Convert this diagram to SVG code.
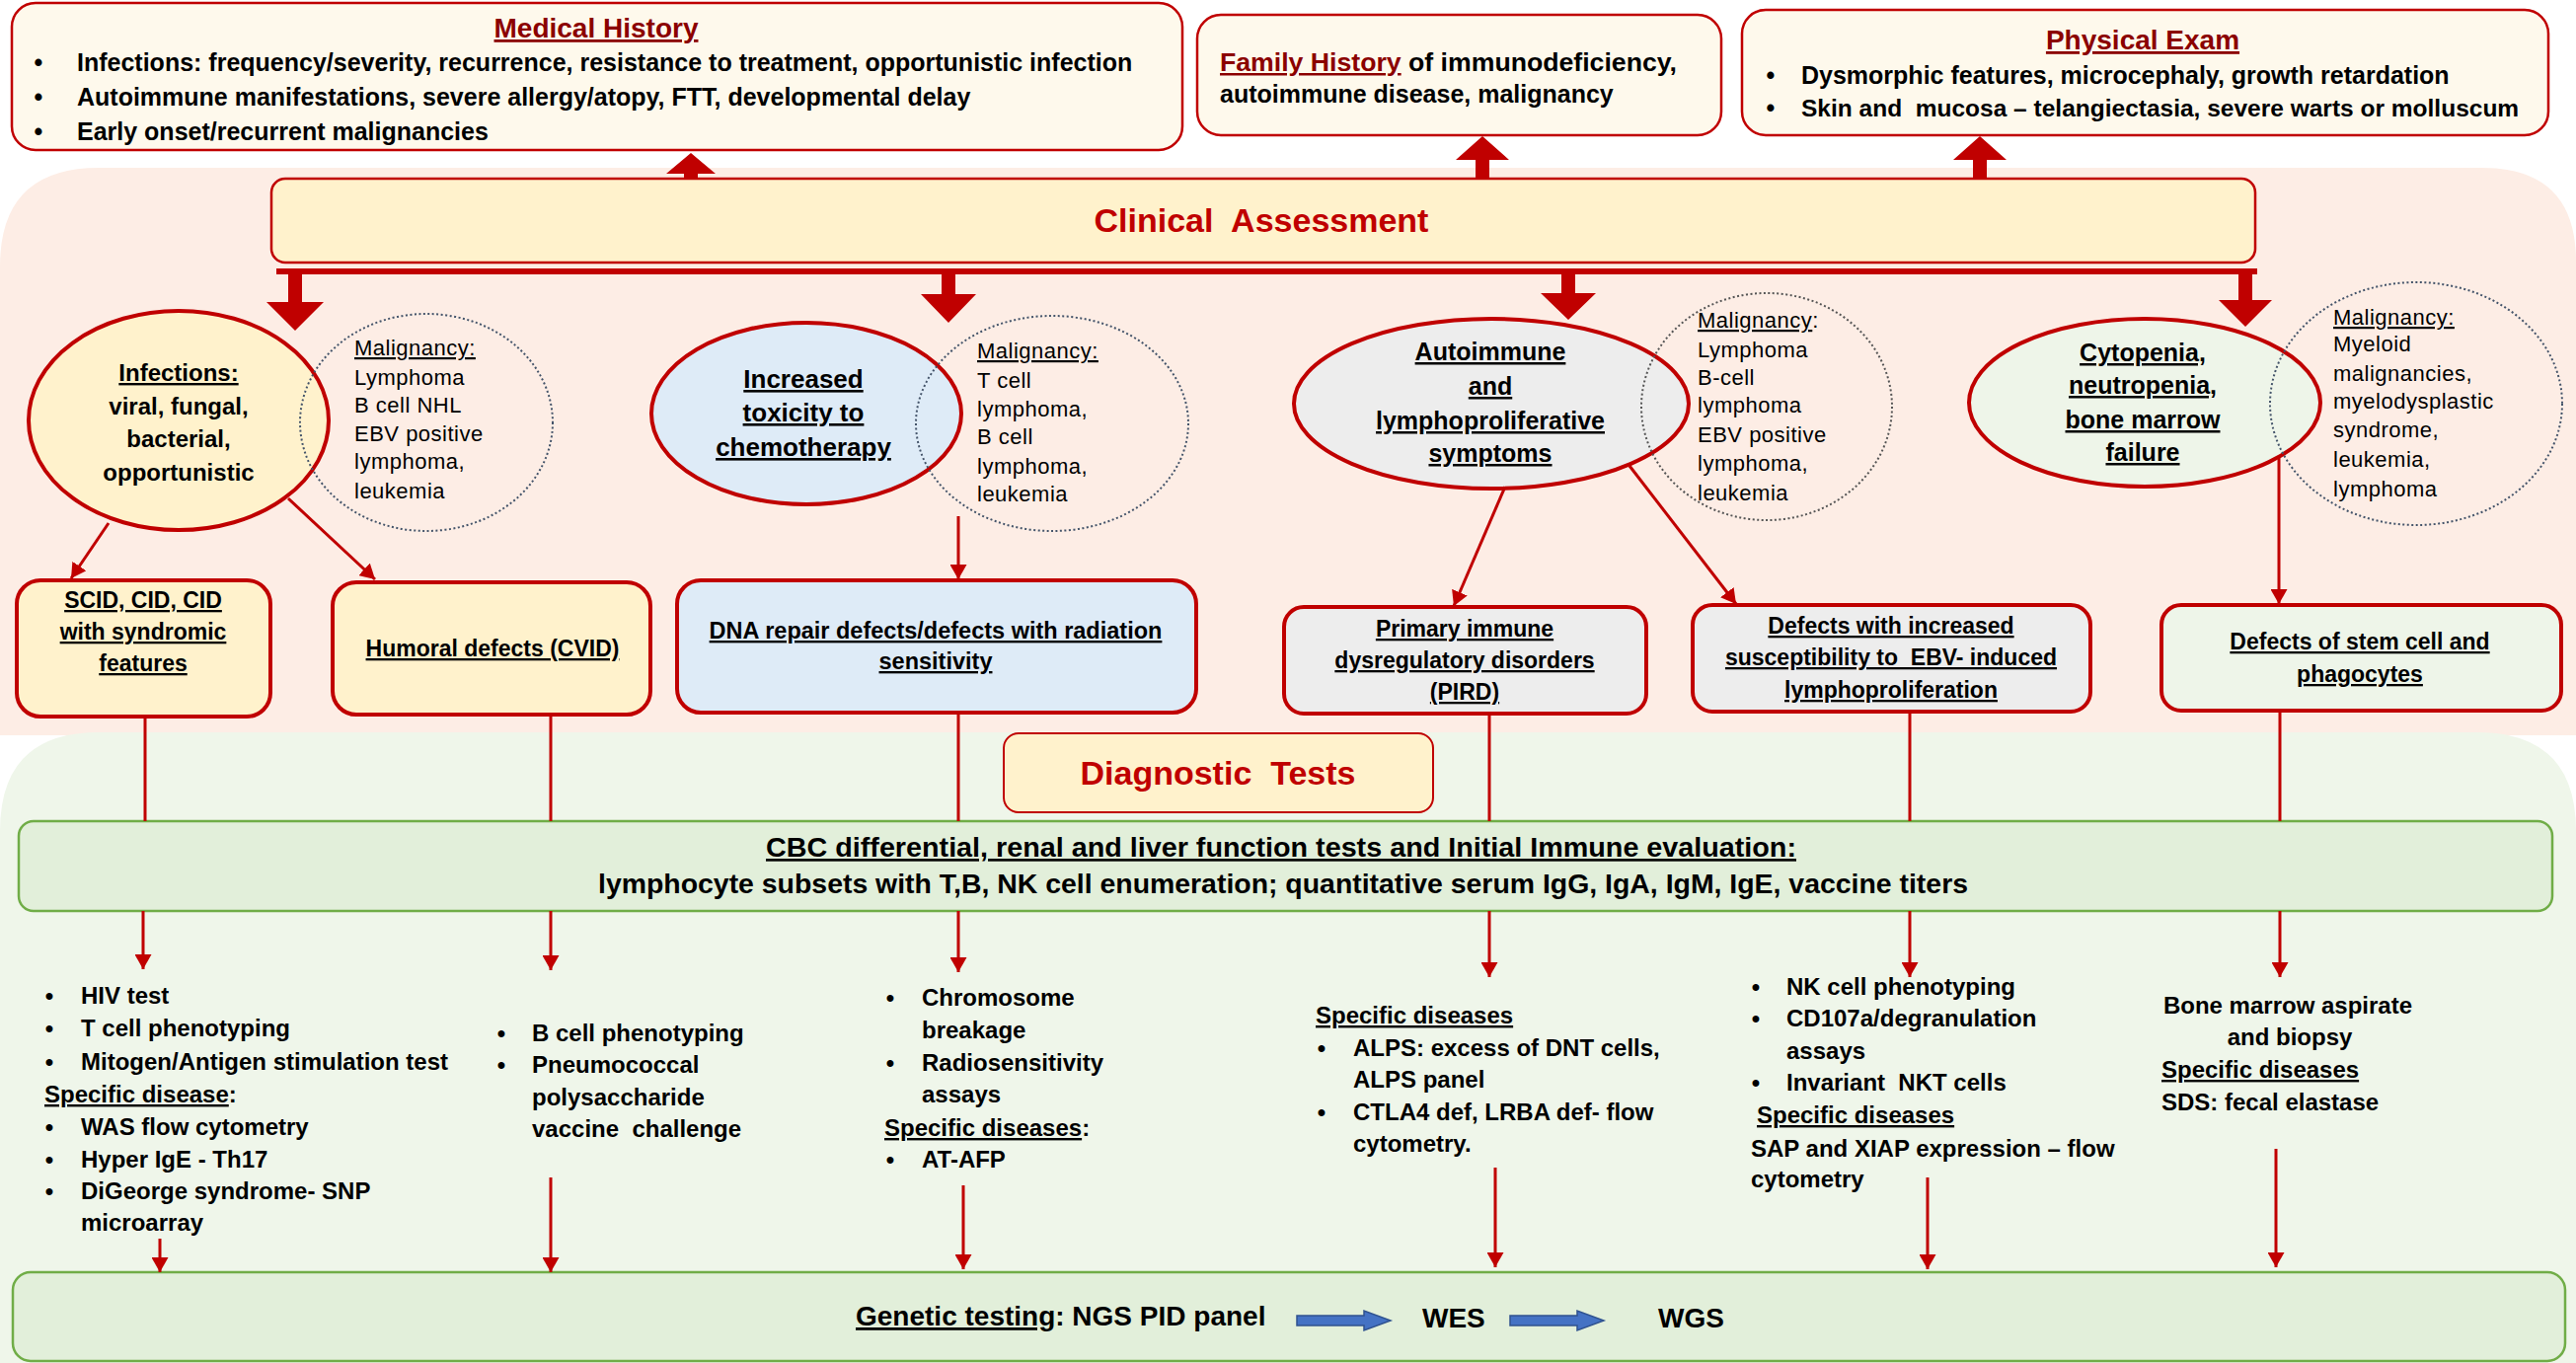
<svg xmlns="http://www.w3.org/2000/svg" width="2610" height="1381" viewBox="0 0 2610 1381">
<defs>
<style>
text{font-family:"Liberation Sans",Arial,sans-serif;fill:#000}
.b{font-weight:bold}
.u{text-decoration:underline}
.hd{font-size:28px;font-weight:bold;fill:#8b0000;text-decoration:underline}
.top{font-size:25px;font-weight:bold}
.big{font-size:34px;font-weight:bold;fill:#c00000}
.el{font-size:25px;font-weight:bold;text-anchor:middle;text-decoration:underline}
.mal{font-size:22px;letter-spacing:0.5px}
.bx{font-size:23px;font-weight:bold;text-anchor:middle;text-decoration:underline}
.cbc{font-size:27px;font-weight:bold}
.ls{font-size:24px;font-weight:bold}
.gen{font-size:28px;font-weight:bold}
.redbox{stroke:#c00000;stroke-width:4}
.dot{fill:none;stroke:#44546a;stroke-width:2;stroke-dasharray:2 2.5}
.conn{stroke:#c00000;stroke-width:3;fill:none}
.thick{fill:#c00000}
.greenbox{fill:#e2efda;stroke:#70ad47;stroke-width:2.5}
</style>
<marker id="ah" viewBox="0 0 15 17" refX="15" refY="8.5" markerWidth="15" markerHeight="17" markerUnits="userSpaceOnUse" orient="auto">
<path d="M0,0 L15,8.5 L0,17 z" fill="#c00000"/>
</marker>
</defs>
<rect width="2610" height="1381" fill="#ffffff"/>
<g id="backgrounds">
<path d="M0,270 Q0,170 100,170 L2515,170 Q2610,170 2610,265 L2610,745 L0,745 Z" fill="#fdede5"/>
<path d="M0,842 Q0,742 100,742 L2510,742 Q2610,742 2610,842 L2610,1381 L0,1381 Z" fill="#eff6ea"/>
</g>
<g id="medical-history">
<rect x="12" y="3" width="1186" height="149" rx="24" fill="#fef9ec" stroke="#c00000" stroke-width="2.5"/>
<text class="hd" x="604" y="38" text-anchor="middle">Medical History</text>
<text class="top" x="39" y="72" text-anchor="middle">•</text>
<text class="top" x="78" y="72">Infections: frequency/severity, recurrence, resistance to treatment, opportunistic infection</text>
<text class="top" x="39" y="107" text-anchor="middle">•</text>
<text class="top" x="78" y="107">Autoimmune manifestations, severe allergy/atopy, FTT, developmental delay</text>
<text class="top" x="39" y="142" text-anchor="middle">•</text>
<text class="top" x="78" y="142">Early onset/recurrent malignancies</text>
</g>
<g id="family-history">
<rect x="1213" y="15" width="531" height="122" rx="24" fill="#fef9ec" stroke="#c00000" stroke-width="2.5"/>
<text class="top" x="1236" y="72" textLength="463" lengthAdjust="spacingAndGlyphs"><tspan fill="#8b0000" text-decoration="underline">Family History</tspan> of immunodeficiency,</text>
<text class="top" x="1236" y="104">autoimmune disease, malignancy</text>
</g>
<g id="physical-exam">
<rect x="1765" y="10" width="817" height="127" rx="24" fill="#fef9ec" stroke="#c00000" stroke-width="2.5"/>
<text class="hd" x="2171" y="50" text-anchor="middle">Physical Exam</text>
<text class="top" x="1794" y="85" text-anchor="middle">•</text>
<text class="top" x="1825" y="85">Dysmorphic features, microcephaly, growth retardation</text>
<text class="top" x="1794" y="118" text-anchor="middle">•</text>
<text class="top" x="1825" y="118" style="font-size:24.5px">Skin and&#160; mucosa – telangiectasia, severe warts or molluscum</text>
</g>
<g id="clinical-assessment">
<rect x="275" y="181" width="2010" height="85" rx="14" fill="#fff2cc" stroke="#c00000" stroke-width="2.5"/>
<text class="big" x="1278" y="235" text-anchor="middle">Clinical&#160; Assessment</text>
</g>
<g id="ellipse-infections">
<ellipse cx="181" cy="426" rx="152" ry="111" fill="#fff2cc" stroke="#c00000" stroke-width="4"/>
<text class="el" x="181" y="386" style="font-size:24px">Infections:</text>
<text class="el" x="181" y="420" style="font-size:24px;text-decoration:none">viral, fungal,</text>
<text class="el" x="181" y="453" style="font-size:24px;text-decoration:none">bacterial,</text>
<text class="el" x="181" y="487" style="font-size:24px;text-decoration:none">opportunistic</text>
</g>
<g id="malignancy-1">
<ellipse class="dot" cx="432" cy="428" rx="128" ry="110"/>
<text class="mal u" x="359" y="360">Malignancy:</text>
<text class="mal" x="359" y="390">Lymphoma</text>
<text class="mal" x="359" y="418">B cell NHL</text>
<text class="mal" x="359" y="447">EBV positive</text>
<text class="mal" x="359" y="475">lymphoma,</text>
<text class="mal" x="359" y="505">leukemia</text>
</g>
<g id="ellipse-toxicity">
<ellipse cx="817" cy="419" rx="157" ry="92" fill="#deebf7" stroke="#c00000" stroke-width="4"/>
<text class="el" x="814" y="393" style="font-size:26px">Increased</text>
<text class="el" x="814" y="427" style="font-size:26px">toxicity to</text>
<text class="el" x="814" y="462" style="font-size:26px">chemotherapy</text>
</g>
<g id="malignancy-2">
<ellipse class="dot" cx="1066" cy="429" rx="138" ry="109"/>
<text class="mal u" x="990" y="363">Malignancy:</text>
<text class="mal" x="990" y="393">T cell</text>
<text class="mal" x="990" y="422">lymphoma,</text>
<text class="mal" x="990" y="450">B cell</text>
<text class="mal" x="990" y="480">lymphoma,</text>
<text class="mal" x="990" y="508">leukemia</text>
</g>
<g id="ellipse-autoimmune">
<ellipse cx="1511" cy="409" rx="200" ry="86" fill="#ededed" stroke="#c00000" stroke-width="4"/>
<text class="el" x="1510" y="365">Autoimmune</text>
<text class="el" x="1510" y="400">and</text>
<text class="el" x="1510" y="435">lymphoproliferative</text>
<text class="el" x="1510" y="468">symptoms</text>
</g>
<g id="malignancy-3">
<ellipse class="dot" cx="1790" cy="412" rx="127" ry="115" style="stroke:#555555"/>
<text class="mal" x="1720" y="332"><tspan text-decoration="underline">Malignancy</tspan>:</text>
<text class="mal" x="1720" y="362">Lymphoma</text>
<text class="mal" x="1720" y="390">B-cell</text>
<text class="mal" x="1720" y="418">lymphoma</text>
<text class="mal" x="1720" y="448">EBV positive</text>
<text class="mal" x="1720" y="477">lymphoma,</text>
<text class="mal" x="1720" y="507">leukemia</text>
</g>
<g id="ellipse-cytopenia">
<ellipse cx="2173" cy="408" rx="178" ry="85" fill="#eef5e9" stroke="#c00000" stroke-width="4"/>
<text class="el" x="2171" y="366">Cytopenia,</text>
<text class="el" x="2171" y="399">neutropenia,</text>
<text class="el" x="2171" y="434">bone marrow</text>
<text class="el" x="2171" y="467">failure</text>
</g>
<g id="malignancy-4">
<ellipse class="dot" cx="2448" cy="409" rx="148" ry="123"/>
<text class="mal u" x="2364" y="329">Malignancy:</text>
<text class="mal" x="2364" y="356">Myeloid</text>
<text class="mal" x="2364" y="386">malignancies,</text>
<text class="mal" x="2364" y="414">myelodysplastic</text>
<text class="mal" x="2364" y="443">syndrome,</text>
<text class="mal" x="2364" y="473">leukemia,</text>
<text class="mal" x="2364" y="503">lymphoma</text>
</g>
<g id="box-scid">
<rect class="redbox" x="17" y="588" width="257" height="138" rx="24" fill="#fff2cc"/>
<text class="bx" x="145" y="616">SCID, CID, CID</text>
<text class="bx" x="145" y="648">with syndromic</text>
<text class="bx" x="145" y="680">features</text>
</g>
<g id="box-humoral">
<rect class="redbox" x="337" y="590" width="322" height="134" rx="24" fill="#fff2cc"/>
<text class="bx" x="499" y="665">Humoral defects (CVID)</text>
</g>
<g id="box-dna">
<rect class="redbox" x="686" y="588" width="526" height="134" rx="24" fill="#deebf7"/>
<text class="bx" x="948" y="647" style="font-size:23.5px">DNA repair defects/defects with radiation</text>
<text class="bx" x="948" y="678" style="font-size:23.5px">sensitivity</text>
</g>
<g id="box-pird">
<rect class="redbox" x="1301" y="615" width="367" height="108" rx="20" fill="#ededed"/>
<text class="bx" x="1484" y="645">Primary immune</text>
<text class="bx" x="1484" y="677">dysregulatory disorders</text>
<text class="bx" x="1484" y="709">(PIRD)</text>
</g>
<g id="box-ebv">
<rect class="redbox" x="1715" y="613" width="403" height="108" rx="20" fill="#ededed"/>
<text class="bx" x="1916" y="642">Defects with increased</text>
<text class="bx" x="1916" y="674">susceptibility to&#160; EBV- induced</text>
<text class="bx" x="1916" y="707">lymphoproliferation</text>
</g>
<g id="box-stem">
<rect class="redbox" x="2190" y="613" width="405" height="107" rx="20" fill="#eef5e9"/>
<text class="bx" x="2391" y="658">Defects of stem cell and</text>
<text class="bx" x="2391" y="691">phagocytes</text>
</g>
<g id="diagnostic-tests">
<rect x="1017" y="743" width="435" height="80" rx="15" fill="#fff2cc" stroke="#c00000" stroke-width="2"/>
<text class="big" x="1234" y="795" text-anchor="middle">Diagnostic&#160; Tests</text>
</g>
<g id="cbc">
<rect class="greenbox" x="19" y="832" width="2567" height="91" rx="15"/>
<text class="cbc u" x="776" y="868" textLength="1044" lengthAdjust="spacingAndGlyphs">CBC differential, renal and liver function tests and Initial Immune evaluation:</text>
<text class="cbc" x="606" y="905" textLength="1388" lengthAdjust="spacingAndGlyphs">lymphocyte subsets with T,B, NK cell enumeration; quantitative serum IgG, IgA, IgM, IgE, vaccine titers</text>
</g>
<g id="tests-col1">
<text class="ls" x="50" y="1017" text-anchor="middle">•</text><text class="ls" x="82" y="1017">HIV test</text>
<text class="ls" x="50" y="1050" text-anchor="middle">•</text><text class="ls" x="82" y="1050">T cell phenotyping</text>
<text class="ls" x="50" y="1084" text-anchor="middle">•</text><text class="ls" x="82" y="1084">Mitogen/Antigen stimulation test</text>
<text class="ls" x="45" y="1117"><tspan text-decoration="underline">Specific disease</tspan>:</text>
<text class="ls" x="50" y="1150" text-anchor="middle">•</text><text class="ls" x="82" y="1150">WAS flow cytometry</text>
<text class="ls" x="50" y="1183" text-anchor="middle">•</text><text class="ls" x="82" y="1183">Hyper IgE - Th17</text>
<text class="ls" x="50" y="1215" text-anchor="middle">•</text><text class="ls" x="82" y="1215">DiGeorge syndrome- SNP</text>
<text class="ls" x="82" y="1247">microarray</text>
</g>
<g id="tests-col2">
<text class="ls" x="508" y="1055" text-anchor="middle">•</text><text class="ls" x="539" y="1055">B cell phenotyping</text>
<text class="ls" x="508" y="1087" text-anchor="middle">•</text><text class="ls" x="539" y="1087">Pneumococcal</text>
<text class="ls" x="539" y="1120">polysaccharide</text>
<text class="ls" x="539" y="1152">vaccine&#160; challenge</text>
</g>
<g id="tests-col3">
<text class="ls" x="902" y="1019" text-anchor="middle">•</text><text class="ls" x="934" y="1019">Chromosome</text>
<text class="ls" x="934" y="1052">breakage</text>
<text class="ls" x="902" y="1085" text-anchor="middle">•</text><text class="ls" x="934" y="1085">Radiosensitivity</text>
<text class="ls" x="934" y="1117">assays</text>
<text class="ls" x="896" y="1151"><tspan text-decoration="underline">Specific diseases</tspan>:</text>
<text class="ls" x="902" y="1183" text-anchor="middle">•</text><text class="ls" x="934" y="1183">AT-AFP</text>
</g>
<g id="tests-col4">
<text class="ls u" x="1333" y="1037">Specific diseases</text>
<text class="ls" x="1339" y="1070" text-anchor="middle">•</text><text class="ls" x="1371" y="1070">ALPS: excess of DNT cells,</text>
<text class="ls" x="1371" y="1102">ALPS panel</text>
<text class="ls" x="1339" y="1135" text-anchor="middle">•</text><text class="ls" x="1371" y="1135">CTLA4 def, LRBA def- flow</text>
<text class="ls" x="1371" y="1167">cytometry.</text>
</g>
<g id="tests-col5">
<text class="ls" x="1779" y="1008" text-anchor="middle">•</text><text class="ls" x="1810" y="1008">NK cell phenotyping</text>
<text class="ls" x="1779" y="1040" text-anchor="middle">•</text><text class="ls" x="1810" y="1040">CD107a/degranulation</text>
<text class="ls" x="1810" y="1073">assays</text>
<text class="ls" x="1779" y="1105" text-anchor="middle">•</text><text class="ls" x="1810" y="1105">Invariant&#160; NKT cells</text>
<text class="ls u" x="1780" y="1138">Specific diseases</text>
<text class="ls" x="1774" y="1172">SAP and XIAP expression – flow</text>
<text class="ls" x="1774" y="1203">cytometry</text>
</g>
<g id="tests-col6">
<text class="ls" x="2318" y="1027" text-anchor="middle">Bone marrow aspirate</text>
<text class="ls" x="2320" y="1059" text-anchor="middle">and biopsy</text>
<text class="ls u" x="2190" y="1092">Specific diseases</text>
<text class="ls" x="2190" y="1125">SDS: fecal elastase</text>
</g>
<g id="genetic-testing">
<rect class="greenbox" x="13" y="1289" width="2586" height="90" rx="18"/>
<text class="gen" x="867" y="1343"><tspan text-decoration="underline">Genetic testing</tspan>: NGS PID panel</text>
<polygon points="1314,1333 1382,1333 1382,1328 1409,1338 1382,1348 1382,1343 1314,1343" fill="#4472c4" stroke="#2f528f" stroke-width="1.5"/>
<text class="gen" x="1441" y="1345">WES</text>
<polygon points="1530,1333 1598,1333 1598,1328 1625,1338 1598,1348 1598,1343 1530,1343" fill="#4472c4" stroke="#2f528f" stroke-width="1.5"/>
<text class="gen" x="1680" y="1345">WGS</text>
</g>
<g id="connectors">
<polygon class="thick" points="693,182 707,182 707,176 725,176 700,155 675,176 693,176"/>
<polygon class="thick" points="1495,182 1509,182 1509,162 1529,162 1502,138 1475,162 1495,162"/>
<polygon class="thick" points="1999,182 2013,182 2013,162 2033,162 2006,138 1979,162 1999,162"/>
<line x1="280" y1="275" x2="2287" y2="275" stroke="#c00000" stroke-width="6"/>
<polygon class="thick" points="292,275 306,275 306,306 328,306 299,335 270,306 292,306"/>
<polygon class="thick" points="954,275 968,275 968,298 989,298 961,327 933,298 954,298"/>
<polygon class="thick" points="1582,275 1596,275 1596,297 1617,297 1589,324 1561,297 1582,297"/>
<polygon class="thick" points="2268,275 2282,275 2282,304 2302,304 2275,331 2248,304 2268,304"/>
<line class="conn" x1="110" y1="530" x2="72" y2="586" marker-end="url(#ah)"/>
<line class="conn" x1="292" y1="505" x2="380" y2="587" marker-end="url(#ah)"/>
<line class="conn" x1="971" y1="523" x2="971" y2="587" marker-end="url(#ah)"/>
<line class="conn" x1="1525" y1="493" x2="1473" y2="614" marker-end="url(#ah)"/>
<line class="conn" x1="1651" y1="472" x2="1759" y2="612" marker-end="url(#ah)"/>
<line class="conn" x1="2309" y1="462" x2="2309" y2="612" marker-end="url(#ah)"/>
<line class="conn" x1="147" y1="726" x2="147" y2="832"/>
<line class="conn" x1="558" y1="724" x2="558" y2="832"/>
<line class="conn" x1="971" y1="722" x2="971" y2="832"/>
<line class="conn" x1="1509" y1="723" x2="1509" y2="832"/>
<line class="conn" x1="1935" y1="721" x2="1935" y2="832"/>
<line class="conn" x1="2310" y1="720" x2="2310" y2="832"/>
<line class="conn" x1="145" y1="923" x2="145" y2="982" marker-end="url(#ah)"/>
<line class="conn" x1="558" y1="923" x2="558" y2="983" marker-end="url(#ah)"/>
<line class="conn" x1="971" y1="923" x2="971" y2="985" marker-end="url(#ah)"/>
<line class="conn" x1="1509" y1="923" x2="1509" y2="990" marker-end="url(#ah)"/>
<line class="conn" x1="1935" y1="923" x2="1935" y2="990" marker-end="url(#ah)"/>
<line class="conn" x1="2310" y1="923" x2="2310" y2="990" marker-end="url(#ah)"/>
<line class="conn" x1="162" y1="1255" x2="162" y2="1289" marker-end="url(#ah)"/>
<line class="conn" x1="558" y1="1193" x2="558" y2="1289" marker-end="url(#ah)"/>
<line class="conn" x1="976" y1="1201" x2="976" y2="1286" marker-end="url(#ah)"/>
<line class="conn" x1="1515" y1="1183" x2="1515" y2="1284" marker-end="url(#ah)"/>
<line class="conn" x1="1953" y1="1193" x2="1953" y2="1286" marker-end="url(#ah)"/>
<line class="conn" x1="2306" y1="1164" x2="2306" y2="1284" marker-end="url(#ah)"/>
</g>
</svg>
